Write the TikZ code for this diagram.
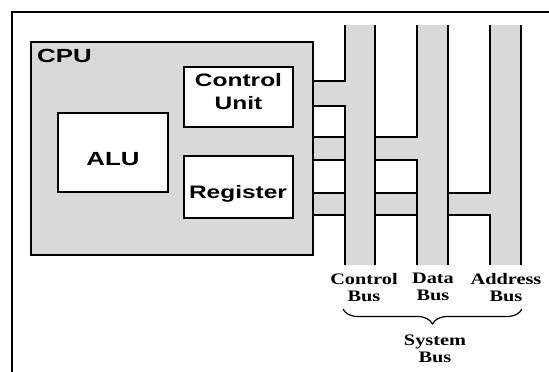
\documentclass[tikz,border=0pt]{standalone}
\usepackage{fontspec}
\usetikzlibrary{decorations.pathreplacing}
\newfontfamily\boxfont[FakeStretch=1.36]{Liberation Sans}
\newfontfamily\busfont[FakeStretch=1.27]{Liberation Serif}

\begin{document}
\begin{tikzpicture}[x=1pt,y=-1pt,
    busfill/.style={fill=gray!30},
    busline/.style={line width=2pt},
    unit/.style={draw, line width=2pt, fill=white, inner sep=0pt},
    unitlabel/.style={font=\boxfont\bfseries\fontsize{18}{23}\selectfont, inner sep=0pt, anchor=north, align=center},
    buslabel/.style={font=\busfont\bfseries\fontsize{16}{17}\selectfont, inner sep=0pt, anchor=north, align=center}]
  \useasboundingbox (0,0) rectangle (549,372);
  \draw[line width=1.2pt] (12,372) -- (12,12) -- (549,12);

  % strips and buses (gray)
  \fill[busfill] (313,81) rectangle (345,106);
  \fill[busfill] (313,137) rectangle (417,160);
  \fill[busfill] (313,193) rectangle (490,215);
  \foreach \xl/\xr in {345/375,417/448,490/521}
    \fill[busfill] (\xl,25) rectangle (\xr,265);

  % cpu and its units
  \node[unit, fill=gray!30, minimum width=282, minimum height=213] (cpu) at (172,148.5) {};
  \node[unit, minimum width=109, minimum height=60] (cu) at (238.5,97) {};
  \node[unit, line width=2.4pt, minimum width=110, minimum height=79] (alu) at (113,152.5) {};
  \node[unit, minimum width=109, minimum height=62] (reg) at (238.5,187) {};
  \node[unitlabel, font=\boxfont\bfseries\fontsize{19}{21}\selectfont, anchor=north west] (cpulbl) at (37,49) {CPU};
  \node[unitlabel] (culbl) at (238.5,73) {Control\\Unit};
  \node[unitlabel, font=\boxfont\bfseries\fontsize{19}{21}\selectfont] (alulbl) at (113,152) {ALU};
  \node[unitlabel] (reglbl) at (238,185) {Register};

  % bus lines
  \draw[busline] (313,81) -- (345,81) -- (345,25);
  \draw[busline] (313,106) -- (345,106) -- (345,265);
  \draw[busline] (375,25) -- (375,265);
  \draw[busline] (313,137) -- (345,137) (375,137) -- (417,137) -- (417,25);
  \draw[busline] (313,160) -- (345,160) (375,160) -- (417,160) -- (417,265);
  \draw[busline] (448,25) -- (448,265);
  \draw[busline] (313,193) -- (345,193) (375,193) -- (417,193) (448,193) -- (490,193) -- (490,25);
  \draw[busline] (313,215) -- (345,215) (375,215) -- (417,215) (448,215) -- (490,215) -- (490,265);
  \draw[busline] (521,25) -- (521,265);

  % labels
  \node[buslabel] (cbus) at (364,273) {Control\\Bus};
  \node[buslabel] (dbus) at (433,273) {Data\\Bus};
  \node[buslabel] (abus) at (506,273) {Address\\Bus};
  \draw[line width=1.2pt, decorate, decoration={brace, mirror, amplitude=15pt}] (343,309) -- (522,309);
  \node[buslabel] (sbus) at (435,335) {System\\Bus};
\end{tikzpicture}
\end{document}
